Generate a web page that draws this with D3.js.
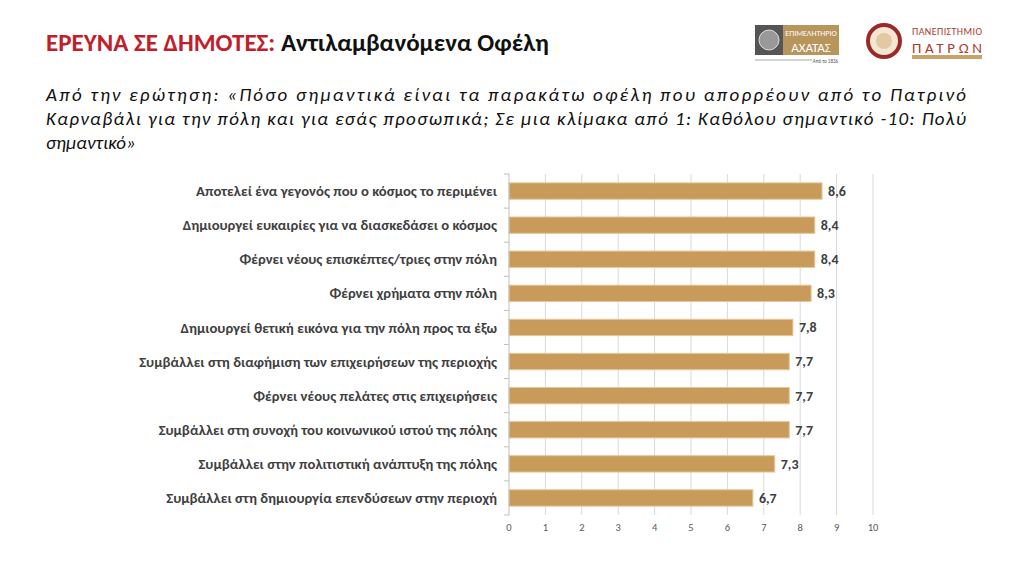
<!DOCTYPE html><html><head><meta charset="utf-8"><script src="https://cdn.jsdelivr.net/npm/d3@7"></script>
<style>body{margin:0;background:#fff}</style></head><body><svg id="c" width="1024" height="576"></svg><script>
const categories=["Αποτελεί ένα γεγονός που ο κόσμος το περιμένει","Δημιουργεί ευκαιρίες για να διασκεδάσει ο κόσμος","Φέρνει νέους επισκέπτες/τριες στην πόλη","Φέρνει χρήματα στην πόλη","Δημιουργεί θετική εικόνα για την πόλη προς τα έξω","Συμβάλλει στη διαφήμιση των επιχειρήσεων της περιοχής","Φέρνει νέους πελάτες στις επιχειρήσεις","Συμβάλλει στη συνοχή του κοινωνικού ιστού της πόλης","Συμβάλλει στην πολιτιστική ανάπτυξη της πόλης","Συμβάλλει στη δημιουργία επενδύσεων στην περιοχή"];
const values=[8.6,8.4,8.4,8.3,7.8,7.7,7.7,7.7,7.3,6.7];
const ticks=[0,1,2,3,4,5,6,7,8,9,10];
const svg=d3.select("#c");
const F="Calibri, Carlito, 'Liberation Sans', Arial, sans-serif";
const t=svg.append("text").attr("x",46).attr("y",51).attr("font-family",F).attr("font-size",25).attr("font-weight","bold");
t.append("tspan").attr("fill","#c0202a").text("ΕΡΕΥΝΑ ΣΕ ΔΗΜΟΤΕΣ: ");
t.append("tspan").attr("fill","#111").text("Αντιλαμβανόμενα Οφέλη");
const sub=["Από την ερώτηση: «Πόσο σημαντικά είναι τα παρακάτω οφέλη που απορρέουν από το Πατρινό","Καρναβάλι  για την πόλη και για εσάς προσωπικά; Σε μια κλίμακα από 1: Καθόλου σημαντικό -10: Πολύ","σημαντικό»"];
sub.forEach((s,i)=>{const e=svg.append("text").attr("x",46).attr("y",101+i*24).attr("font-family",F).attr("font-size",19).attr("font-style","italic").attr("fill","#111").text(s);
 if(i<2)e.attr("textLength",920).attr("lengthAdjust","spacing");});
// logos
const g1=svg.append("g");
g1.append("rect").attr("x",755).attr("y",25).attr("width",28).attr("height",30).attr("fill","#555");
g1.append("circle").attr("cx",769).attr("cy",40).attr("r",10).attr("fill","#999").attr("stroke","#ddd");
g1.append("rect").attr("x",783).attr("y",25).attr("width",56).attr("height",30).attr("fill","#b8955a");
g1.append("text").attr("x",811).attr("y",36).attr("text-anchor","middle").attr("fill","#fff").attr("font-family",F).attr("font-size",8).text("ΕΠΙΜΕΛΗΤΗΡΙΟ");
g1.append("text").attr("x",811).attr("y",52).attr("text-anchor","middle").attr("fill","#fff").attr("font-family",F).attr("font-size",13).text("ΑΧΑΤΑΣ");
g1.append("line").attr("x1",755).attr("x2",812).attr("y1",60).attr("y2",60).attr("stroke","#aaa");
g1.append("text").attr("x",838).attr("y",63).attr("text-anchor","end").attr("fill","#555").attr("font-family",F).attr("font-size",5).text("Από το 1836");
svg.append("circle").attr("cx",884).attr("cy",41).attr("r",16).attr("fill","#f3e6d2").attr("stroke","#9a2a2a").attr("stroke-width",4);
svg.append("circle").attr("cx",884).attr("cy",41).attr("r",8).attr("fill","#e2c9a3");
svg.append("text").attr("x",947).attr("y",35).attr("text-anchor","middle").attr("fill","#b03a2e").attr("font-family",F).attr("font-size",10).attr("textLength",70).text("ΠΑΝΕΠΙΣΤΗΜΙΟ");
svg.append("text").attr("x",947).attr("y",53).attr("text-anchor","middle").attr("fill","#b03a2e").attr("font-family",F).attr("font-size",15).attr("textLength",70).text("ΠΑΤΡΩΝ");
svg.append("rect").attr("x",912).attr("y",55).attr("width",70).attr("height",4).attr("fill","#c8a46a");
// chart
const x=d3.scaleLinear().domain([0,10]).range([509,873]);
const y=d3.scaleBand().domain(categories).range([174,515]).paddingInner(0.52).paddingOuter(0.26);
svg.append("g").selectAll("line").data(ticks.slice(1)).join("line").attr("x1",d=>x(d)).attr("x2",d=>x(d)).attr("y1",174).attr("y2",515).attr("stroke","#d9d9d9");
svg.append("g").selectAll("rect").data(values).join("rect").attr("x",x(0)).attr("y",(d,i)=>y(categories[i])).attr("width",d=>x(d)-x(0)).attr("height",y.bandwidth()).attr("fill","#c99b5a").attr("stroke","#e6c79a").attr("stroke-width",1);
svg.append("line").attr("x1",509).attr("x2",509).attr("y1",174).attr("y2",515).attr("stroke","#bfbfbf");
const step=y.step();
svg.append("g").selectAll("line").data(d3.range(11)).join("line").attr("x1",504).attr("x2",509).attr("y1",d=>174+d*step).attr("y2",d=>174+d*step).attr("stroke","#bfbfbf");
svg.append("g").selectAll("text").data(categories).join("text").attr("x",497).attr("y",d=>y(d)+y.bandwidth()/2).attr("dy","0.35em").attr("text-anchor","end").attr("font-family",F).attr("font-size",14.7).attr("font-weight","bold").attr("fill","#404040").text(d=>d);
svg.append("g").selectAll("text").data(values).join("text").attr("x",d=>x(d)+6).attr("y",(d,i)=>y(categories[i])+y.bandwidth()/2).attr("dy","0.35em").attr("font-family",F).attr("font-size",14).attr("font-weight","bold").attr("fill","#404040").text(d=>String(d).replace(".",","));
svg.append("g").selectAll("text").data(ticks).join("text").attr("x",d=>x(d)).attr("y",531).attr("text-anchor","middle").attr("font-family",F).attr("font-size",10.5).attr("fill","#595959").text(d=>d);
</script></body></html>
